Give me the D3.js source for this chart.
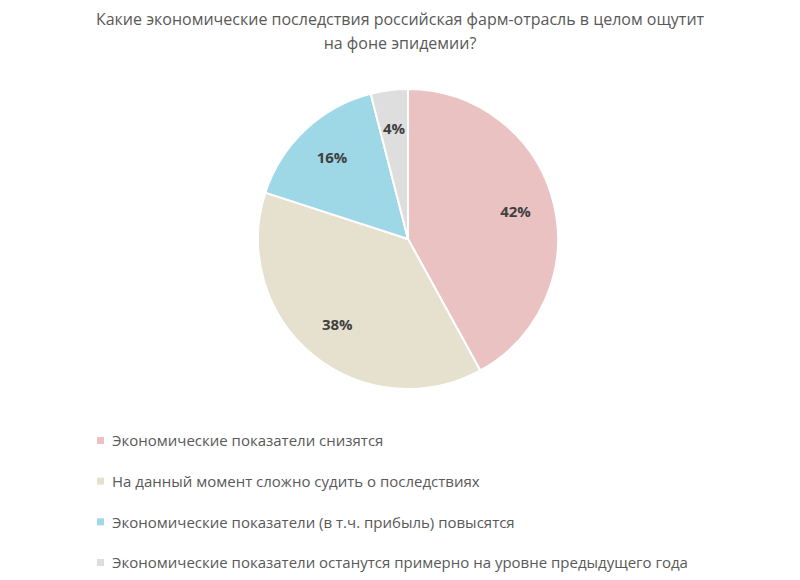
<!DOCTYPE html>
<html><head><meta charset="utf-8">
<script src="https://cdn.jsdelivr.net/npm/d3@7"></script>
<style>body{margin:0;background:#fff}</style>
</head><body>
<svg id="c" width="800" height="580"></svg>
<script>
const categories = [
  "Экономические показатели снизятся",
  "На данный момент сложно судить о последствиях",
  "Экономические показатели (в т.ч. прибыль) повысятся",
  "Экономические показатели останутся примерно на уровне предыдущего года"
];
const values = [42, 38, 16, 4];
const colors = ["#EBC2C2", "#E6E1CE", "#9ED7E6", "#DEDEDE"];
const titleLines = ["Какие экономические последствия российская фарм-отрасль в целом ощутит", "на фоне эпидемии?"];

const svg = d3.select("#c");
const font = "'Open Sans', 'Noto Sans', sans-serif";
svg.selectAll("text.title").data(titleLines).join("text")
  .attr("x", 400).attr("y", (d,i)=>25+i*24).attr("text-anchor","middle")
  .attr("font-family", font).attr("font-size", 16).attr("fill", "#595959").text(d=>d);

const cx = 408, cy = 239, r = 150;
const pie = d3.pie().sort(null).value(d=>d)(values);
const arc = d3.arc().innerRadius(0).outerRadius(r);
const lab = d3.arc().innerRadius(r*0.74).outerRadius(r*0.74);
const g = svg.append("g").attr("transform", `translate(${cx},${cy})`);
g.selectAll("path").data(pie).join("path").attr("d", arc)
  .attr("fill", (d,i)=>colors[i]).attr("stroke", "#fff").attr("stroke-width", 2);
g.selectAll("text").data(pie).join("text")
  .attr("transform", d=>`translate(${lab.centroid(d)})`)
  .attr("text-anchor","middle").attr("dy","0.35em")
  .attr("font-family", font).attr("font-size", 15).attr("font-weight","bold").attr("fill","#404040")
  .text(d=>d.data+"%");

const leg = svg.append("g");
const ly = d3.scalePoint().domain(d3.range(categories.length)).range([441, 563]);
categories.forEach((c,i)=>{
  leg.append("rect").attr("x", 97).attr("y", ly(i)-4).attr("width", 7).attr("height", 7).attr("fill", colors[i]);
  leg.append("text").attr("x", 112).attr("y", ly(i)).attr("dy","0.35em")
    .attr("font-family", font).attr("font-size", 15).attr("fill","#595959").text(c);
});
</script>
</body></html>
